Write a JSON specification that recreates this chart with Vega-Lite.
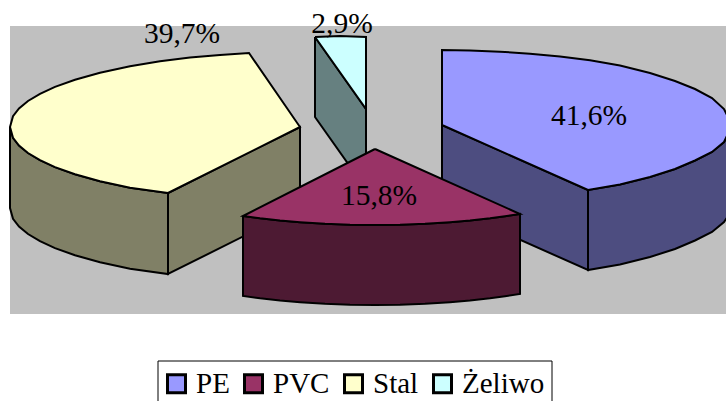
{"$schema":"https://vega.github.io/schema/vega-lite/v6.json","width":726,"height":401,"padding":0,"autosize":{"type":"none"},"background":"white","config":{"view":{"stroke":null}},
"datasets":{"poly":[
{"face":"Żeliwo bok","shape":"a1","order":1,"x":315,"y":37},{"face":"Żeliwo bok","shape":"a1","order":2,"x":366,"y":109},{"face":"Żeliwo bok","shape":"a1","order":3,"x":366,"y":189},{"face":"Żeliwo bok","shape":"a1","order":4,"x":315,"y":117},{"face":"Żeliwo bok","shape":"a1","order":5,"x":315,"y":37},
{"face":"Żeliwo","shape":"a2","order":1,"x":315,"y":37},{"face":"Żeliwo","shape":"a2","order":2,"x":340,"y":36},{"face":"Żeliwo","shape":"a2","order":3,"x":366,"y":37},{"face":"Żeliwo","shape":"a2","order":4,"x":366,"y":109},{"face":"Żeliwo","shape":"a2","order":5,"x":315,"y":37},
{"face":"Stal bok","shape":"b1","order":1,"x":168,"y":193},{"face":"Stal bok","shape":"b1","order":2,"x":300,"y":127},{"face":"Stal bok","shape":"b1","order":3,"x":300,"y":208},{"face":"Stal bok","shape":"b1","order":4,"x":168,"y":274},{"face":"Stal bok","shape":"b1","order":5,"x":168,"y":193},
{"face":"Stal bok","shape":"b2","order":1,"x":10,"y":127},{"face":"Stal bok","shape":"b2","order":2,"x":13,"y":137.8},{"face":"Stal bok","shape":"b2","order":3,"x":19,"y":145.5},{"face":"Stal bok","shape":"b2","order":4,"x":28,"y":153},{"face":"Stal bok","shape":"b2","order":5,"x":40,"y":160.2},{"face":"Stal bok","shape":"b2","order":6,"x":55,"y":167.1},{"face":"Stal bok","shape":"b2","order":7,"x":75,"y":174.3},{"face":"Stal bok","shape":"b2","order":8,"x":100,"y":181.3},{"face":"Stal bok","shape":"b2","order":9,"x":130,"y":187.8},{"face":"Stal bok","shape":"b2","order":10,"x":168,"y":193},{"face":"Stal bok","shape":"b2","order":11,"x":168,"y":274},{"face":"Stal bok","shape":"b2","order":12,"x":130,"y":268.8},{"face":"Stal bok","shape":"b2","order":13,"x":100,"y":262.3},{"face":"Stal bok","shape":"b2","order":14,"x":75,"y":255.3},{"face":"Stal bok","shape":"b2","order":15,"x":55,"y":248.1},{"face":"Stal bok","shape":"b2","order":16,"x":40,"y":241.2},{"face":"Stal bok","shape":"b2","order":17,"x":28,"y":234},{"face":"Stal bok","shape":"b2","order":18,"x":19,"y":226.5},{"face":"Stal bok","shape":"b2","order":19,"x":13,"y":218.8},{"face":"Stal bok","shape":"b2","order":20,"x":10,"y":208},{"face":"Stal bok","shape":"b2","order":21,"x":10,"y":127},
{"face":"Stal","shape":"b3","order":1,"x":168,"y":193},{"face":"Stal","shape":"b3","order":2,"x":300,"y":127},{"face":"Stal","shape":"b3","order":3,"x":249,"y":53},{"face":"Stal","shape":"b3","order":4,"x":220,"y":54.9},{"face":"Stal","shape":"b3","order":5,"x":190,"y":57.6},{"face":"Stal","shape":"b3","order":6,"x":160,"y":61.3},{"face":"Stal","shape":"b3","order":7,"x":130,"y":66.2},{"face":"Stal","shape":"b3","order":8,"x":100,"y":72.7},{"face":"Stal","shape":"b3","order":9,"x":75,"y":79.7},{"face":"Stal","shape":"b3","order":10,"x":55,"y":86.9},{"face":"Stal","shape":"b3","order":11,"x":40,"y":93.8},{"face":"Stal","shape":"b3","order":12,"x":28,"y":101},{"face":"Stal","shape":"b3","order":13,"x":19,"y":108.5},{"face":"Stal","shape":"b3","order":14,"x":13,"y":116.2},{"face":"Stal","shape":"b3","order":15,"x":10,"y":127},{"face":"Stal","shape":"b3","order":16,"x":13,"y":137.8},{"face":"Stal","shape":"b3","order":17,"x":19,"y":145.5},{"face":"Stal","shape":"b3","order":18,"x":28,"y":153},{"face":"Stal","shape":"b3","order":19,"x":40,"y":160.2},{"face":"Stal","shape":"b3","order":20,"x":55,"y":167.1},{"face":"Stal","shape":"b3","order":21,"x":75,"y":174.3},{"face":"Stal","shape":"b3","order":22,"x":100,"y":181.3},{"face":"Stal","shape":"b3","order":23,"x":130,"y":187.8},{"face":"Stal","shape":"b3","order":24,"x":168,"y":193},
{"face":"PE bok","shape":"c1","order":1,"x":442,"y":125},{"face":"PE bok","shape":"c1","order":2,"x":588,"y":190},{"face":"PE bok","shape":"c1","order":3,"x":588,"y":270},{"face":"PE bok","shape":"c1","order":4,"x":442,"y":205},{"face":"PE bok","shape":"c1","order":5,"x":442,"y":125},
{"face":"PE bok","shape":"c2","order":1,"x":588,"y":190},{"face":"PE bok","shape":"c2","order":2,"x":620,"y":184.5},{"face":"PE bok","shape":"c2","order":3,"x":650,"y":177},{"face":"PE bok","shape":"c2","order":4,"x":675,"y":169},{"face":"PE bok","shape":"c2","order":5,"x":695,"y":160.5},{"face":"PE bok","shape":"c2","order":6,"x":712,"y":152},{"face":"PE bok","shape":"c2","order":7,"x":724,"y":142},{"face":"PE bok","shape":"c2","order":8,"x":732,"y":130},{"face":"PE bok","shape":"c2","order":9,"x":732,"y":210},{"face":"PE bok","shape":"c2","order":10,"x":724,"y":222},{"face":"PE bok","shape":"c2","order":11,"x":712,"y":232},{"face":"PE bok","shape":"c2","order":12,"x":695,"y":240.5},{"face":"PE bok","shape":"c2","order":13,"x":675,"y":249},{"face":"PE bok","shape":"c2","order":14,"x":650,"y":257},{"face":"PE bok","shape":"c2","order":15,"x":620,"y":264.5},{"face":"PE bok","shape":"c2","order":16,"x":588,"y":270},{"face":"PE bok","shape":"c2","order":17,"x":588,"y":190},
{"face":"PE","shape":"c3","order":1,"x":442,"y":125},{"face":"PE","shape":"c3","order":2,"x":442,"y":50},{"face":"PE","shape":"c3","order":3,"x":470,"y":50.5},{"face":"PE","shape":"c3","order":4,"x":500,"y":51.7},{"face":"PE","shape":"c3","order":5,"x":530,"y":53.7},{"face":"PE","shape":"c3","order":6,"x":560,"y":56.4},{"face":"PE","shape":"c3","order":7,"x":590,"y":60.3},{"face":"PE","shape":"c3","order":8,"x":620,"y":65.5},{"face":"PE","shape":"c3","order":9,"x":650,"y":73},{"face":"PE","shape":"c3","order":10,"x":675,"y":81},{"face":"PE","shape":"c3","order":11,"x":695,"y":89},{"face":"PE","shape":"c3","order":12,"x":712,"y":98},{"face":"PE","shape":"c3","order":13,"x":724,"y":109},{"face":"PE","shape":"c3","order":14,"x":732,"y":125},{"face":"PE","shape":"c3","order":15,"x":724,"y":142},{"face":"PE","shape":"c3","order":16,"x":712,"y":152},{"face":"PE","shape":"c3","order":17,"x":695,"y":160.5},{"face":"PE","shape":"c3","order":18,"x":675,"y":169},{"face":"PE","shape":"c3","order":19,"x":650,"y":177},{"face":"PE","shape":"c3","order":20,"x":620,"y":184.5},{"face":"PE","shape":"c3","order":21,"x":588,"y":190},{"face":"PE","shape":"c3","order":22,"x":442,"y":125},
{"face":"PVC bok","shape":"d1","order":1,"x":243,"y":216},{"face":"PVC bok","shape":"d1","order":2,"x":260,"y":218.3},{"face":"PVC bok","shape":"d1","order":3,"x":280,"y":220.5},{"face":"PVC bok","shape":"d1","order":4,"x":300,"y":222.2},{"face":"PVC bok","shape":"d1","order":5,"x":325,"y":223.8},{"face":"PVC bok","shape":"d1","order":6,"x":350,"y":224.7},{"face":"PVC bok","shape":"d1","order":7,"x":375,"y":225},{"face":"PVC bok","shape":"d1","order":8,"x":400,"y":224.7},{"face":"PVC bok","shape":"d1","order":9,"x":425,"y":223.8},{"face":"PVC bok","shape":"d1","order":10,"x":450,"y":222.2},{"face":"PVC bok","shape":"d1","order":11,"x":470,"y":220.5},{"face":"PVC bok","shape":"d1","order":12,"x":490,"y":218.3},{"face":"PVC bok","shape":"d1","order":13,"x":505,"y":216.3},{"face":"PVC bok","shape":"d1","order":14,"x":520,"y":214},{"face":"PVC bok","shape":"d1","order":15,"x":520,"y":294},{"face":"PVC bok","shape":"d1","order":16,"x":505,"y":296.3},{"face":"PVC bok","shape":"d1","order":17,"x":490,"y":298.3},{"face":"PVC bok","shape":"d1","order":18,"x":470,"y":300.5},{"face":"PVC bok","shape":"d1","order":19,"x":450,"y":302.2},{"face":"PVC bok","shape":"d1","order":20,"x":425,"y":303.8},{"face":"PVC bok","shape":"d1","order":21,"x":400,"y":304.7},{"face":"PVC bok","shape":"d1","order":22,"x":375,"y":305},{"face":"PVC bok","shape":"d1","order":23,"x":350,"y":304.7},{"face":"PVC bok","shape":"d1","order":24,"x":325,"y":303.8},{"face":"PVC bok","shape":"d1","order":25,"x":300,"y":302.2},{"face":"PVC bok","shape":"d1","order":26,"x":280,"y":300.5},{"face":"PVC bok","shape":"d1","order":27,"x":260,"y":298.3},{"face":"PVC bok","shape":"d1","order":28,"x":243,"y":296},{"face":"PVC bok","shape":"d1","order":29,"x":243,"y":216},
{"face":"PVC","shape":"d2","order":1,"x":375,"y":149},{"face":"PVC","shape":"d2","order":2,"x":520,"y":214},{"face":"PVC","shape":"d2","order":3,"x":505,"y":216.3},{"face":"PVC","shape":"d2","order":4,"x":490,"y":218.3},{"face":"PVC","shape":"d2","order":5,"x":470,"y":220.5},{"face":"PVC","shape":"d2","order":6,"x":450,"y":222.2},{"face":"PVC","shape":"d2","order":7,"x":425,"y":223.8},{"face":"PVC","shape":"d2","order":8,"x":400,"y":224.7},{"face":"PVC","shape":"d2","order":9,"x":375,"y":225},{"face":"PVC","shape":"d2","order":10,"x":350,"y":224.7},{"face":"PVC","shape":"d2","order":11,"x":325,"y":223.8},{"face":"PVC","shape":"d2","order":12,"x":300,"y":222.2},{"face":"PVC","shape":"d2","order":13,"x":280,"y":220.5},{"face":"PVC","shape":"d2","order":14,"x":260,"y":218.3},{"face":"PVC","shape":"d2","order":15,"x":243,"y":216},{"face":"PVC","shape":"d2","order":16,"x":375,"y":149}
],
"labels":[{"name":"PE","label":"41,6%","x":589,"y":125},{"name":"PVC","label":"15,8%","x":379,"y":205},{"name":"Stal","label":"39,7%","x":182,"y":43},{"name":"Żeliwo","label":"2,9%","x":342,"y":33}]},
"layer":[
{"data":{"values":[{"x":10,"x2":726,"y":26,"y2":314,"part":"plot"}]},"mark":{"type":"rect","color":"#C0C0C0"},"encoding":{"x":{"field":"x","type":"quantitative","scale":{"domain":[0,726],"nice":false,"zero":false},"axis":null},"x2":{"field":"x2"},"y":{"field":"y","type":"quantitative","scale":{"domain":[401,0],"nice":false,"zero":false},"axis":null},"y2":{"field":"y2"}}},
{"data":{"values":[{"x":158,"x2":552,"y":361,"y2":410,"part":"legend frame"}]},"mark":{"type":"rect","fill":"white","stroke":"black","strokeWidth":1},"encoding":{"x":{"field":"x","type":"quantitative"},"x2":{"field":"x2"},"y":{"field":"y","type":"quantitative"},"y2":{"field":"y2"}}},
{"data":{"name":"poly"},"mark":{"type":"line","stroke":"black","strokeWidth":2,"strokeJoin":"miter","clip":true},"encoding":{"x":{"field":"x","type":"quantitative"},"y":{"field":"y","type":"quantitative"},"order":{"field":"order","type":"quantitative"},"detail":{"field":"shape"},"fill":{"field":"face","type":"nominal","scale":{"domain":["PE","PVC","Stal","Żeliwo","PE bok","PVC bok","Stal bok","Żeliwo bok"],"range":["#9999FF","#993366","#FFFFCC","#CCFFFF","#4D4D80","#4D1A33","#808066","#668080"]},"legend":{"values":["PE","PVC","Stal","Żeliwo"],"title":null,"orient":"none","legendX":162,"legendY":369,"direction":"horizontal","columns":4,"padding":0,"columnPadding":8,"symbolType":"square","symbolSize":324,"symbolStrokeColor":"black","symbolStrokeWidth":3,"symbolOffset":0,"labelFont":"Liberation Serif","labelFontSize":29,"labelColor":"black","labelOffset":5,"gridAlign":"each"}}}},
{"data":{"name":"labels"},"mark":{"type":"text","font":"Liberation Serif","fontSize":29.5,"color":"black","baseline":"alphabetic","align":"center"},"encoding":{"x":{"field":"x","type":"quantitative"},"y":{"field":"y","type":"quantitative"},"text":{"field":"label"}}}
]}
